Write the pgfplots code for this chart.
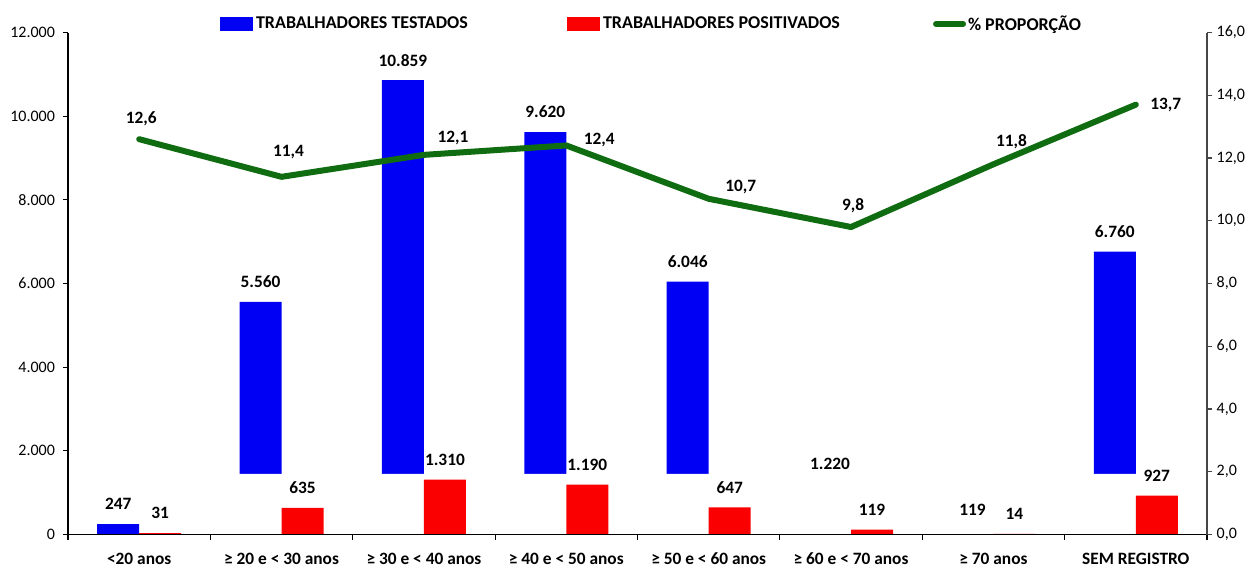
\documentclass[border=0pt]{standalone}
\usepackage{pgfplots}
\pgfplotsset{compat=1.18}
\usepackage{pgfplotstable}
\usepackage{fontspec}
\setmainfont{Carlito}
\definecolor{cblue}{RGB}{0,0,245}
\definecolor{cred}{RGB}{250,0,0}
\definecolor{cgreen}{RGB}{16,108,16}
\definecolor{raxis}{RGB}{70,70,70}

\pgfplotstableread{
x blue red mask
0 247 31 0
1 5560 635 1450
2 10859 1310 1450
3 9620 1190 1450
4 6046 647 1450
5 1220 119 1450
6 119 14 1450
7 6760 927 1450
}\bars

\pgfplotstableread{
x p
0 12.6
1 11.4
2 12.1
3 12.4
4 10.7
5 9.8
6 11.8
7 13.7
}\prop

\tikzset{lbl/.style={font=\fontsize{13}{15}\selectfont\bfseries, black, anchor=center}}
\pgfplotsset{
  common/.style={
    scale only axis, width=854.25pt, height=376.5pt,
    xmin=-0.5, xmax=7.5,
    tick align=outside, major tick length=3.75pt,
  },
}
\newcommand\plab[4]{\addplot[draw=none, forget plot, nodes near coords,
  nodes near coords style={lbl, xshift=#3pt, yshift=#4pt,
    /pgf/number format/.cd, fixed, fixed zerofill, precision=1, use comma, assume math mode=true}]
  coordinates {(#1,#2)};}

\begin{document}
\begin{tikzpicture}
\path[use as bounding box] (-51pt,-25.875pt) rectangle (886.5pt,400.875pt);
\begin{axis}[
  common,
  ymin=0, ymax=12000,
  axis x line*=bottom, axis y line*=left,
  axis on top,
  axis line style={line width=0.8pt, black},
  xtick={0,...,7},
  xticklabels={<20 anos, ≥ 20 e < 30 anos, ≥ 30 e < 40 anos, ≥ 40 e < 50 anos, ≥ 50 e < 60 anos, ≥ 60 e < 70 anos, ≥ 70 anos, SEM REGISTRO},
  x tick style={draw=none},
  x tick label style={font=\fontsize{13}{15}\selectfont\bfseries, anchor=north, yshift=-6.5pt},
  ytick={0,2000,...,12000}, scaled y ticks=false,
  y tick style={black, line width=0.8pt},
  y tick label style={font=\fontsize{12}{14}\selectfont, xshift=-2.5pt, /pgf/number format/.cd, fixed, precision=0, use comma, 1000 sep={.}, assume math mode=true},
  legend columns=3,
  legend cell align=left,
  legend style={at={(axis description cs:0.1335,1.017)}, anchor=west, draw=none, fill=none, inner sep=0pt, outer sep=0pt,
    font=\fontsize{13.5}{15}\selectfont\bfseries, /tikz/column sep=0pt, nodes={inner sep=0pt}},
]
\addplot[ybar, bar width=31.5pt, bar shift=-15.75pt, fill=cblue, draw=none,
  legend image code/.code={\fill[cblue] (0pt,-5.6pt) rectangle (24.75pt,5.6pt);}]
  table[x=x, y=blue]{\bars};
\addlegendentry{\makebox[235.5pt][l]{\hspace{2.25pt}TRABALHADORES TESTADOS}}
\addplot[ybar, bar width=33pt, bar shift=-15.75pt, fill=white, draw=none, forget plot]
  table[x=x, y=mask]{\bars};
\addplot[ybar, bar width=31.5pt, bar shift=15.75pt, fill=cred, draw=none,
  legend image code/.code={\fill[cred] (0pt,-5.6pt) rectangle (24.75pt,5.6pt);},
  nodes near coords,
  nodes near coords style={lbl, xshift=15.75pt, yshift=15pt,
    /pgf/number format/.cd, fixed, precision=0, use comma, 1000 sep={.}, assume math mode=true}]
  table[x=x, y=red]{\bars};
\addlegendentry{\makebox[249.75pt][l]{\hspace{2.25pt}TRABALHADORES POSITIVADOS}}
\addplot[ybar, bar width=31.5pt, bar shift=-15.75pt, fill=none, draw=none, forget plot,
  nodes near coords,
  nodes near coords style={lbl, xshift=-15.75pt, yshift=15pt,
    /pgf/number format/.cd, fixed, precision=0, use comma, 1000 sep={.}, assume math mode=true}]
  table[x=x, y=blue]{\bars};
\addlegendimage{cgreen, line width=4.5pt, line cap=round,
  legend image code/.code={\draw[cgreen, line width=4.5pt, line cap=round] (2.25pt,0pt) -- (22.5pt,0pt);}}
\addlegendentry{\hspace{1.5pt}\% PROPORÇÃO}
\end{axis}

\begin{axis}[
  common,
  ymin=0, ymax=16,
  axis x line*=bottom, axis y line*=right,
  x axis line style={line width=0.8pt, black},
  y axis line style={line width=0.8pt, raxis},
  xtick={-0.5,0.5,...,7.5}, xticklabels={},
  x tick style={black, line width=0.8pt},
  ytick={0,2,...,16},
  y tick style={raxis, line width=0.8pt},
  y tick label style={font=\fontsize{12}{14}\selectfont, /pgf/number format/.cd, fixed, fixed zerofill, precision=1, use comma, assume math mode=true},
]
\addplot[cgreen, line width=4.5pt, line cap=round, line join=round]
  table[x=x, y=p]{\prop};
\plab{0}{12.6}{1.5}{15}
\plab{1}{11.4}{5.25}{18.75}
\plab{2}{12.1}{21.75}{12.75}
\plab{3}{12.4}{24.75}{4.2}
\plab{4}{10.7}{24}{9}
\plab{5}{9.8}{1.5}{15.75}
\plab{6}{11.8}{13.5}{16.9}
\plab{7}{13.7}{22.5}{0}
\end{axis}
\end{tikzpicture}
\end{document}
